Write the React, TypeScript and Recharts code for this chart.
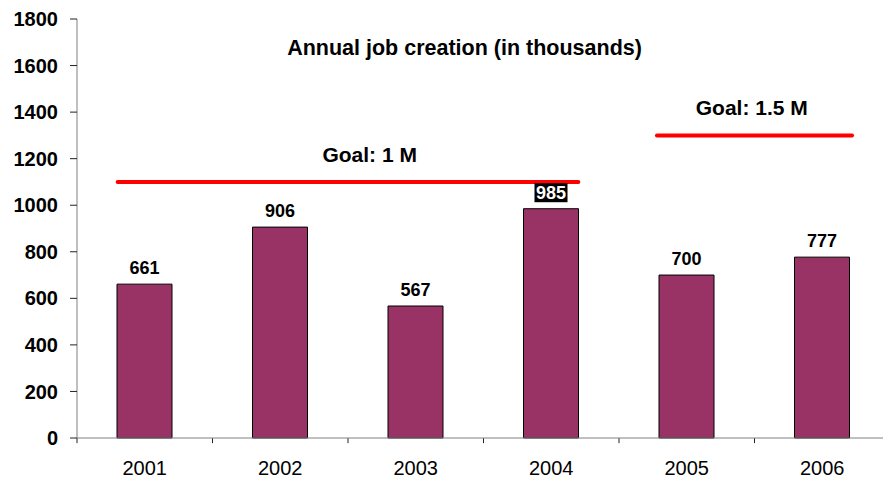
import React from 'react';
import {
  ComposedChart,
  Bar,
  XAxis,
  YAxis,
  ReferenceLine,
  ReferenceDot,
  Label,
  LabelList,
} from 'recharts';

// Annual job creation, thousands
const years = ['2001', '2002', '2003', '2004', '2005', '2006'];
const jobs = [661, 906, 567, 985, 700, 777];
const yTicks = [0, 200, 400, 600, 800, 1000, 1200, 1400, 1600, 1800];

// goals drawn as segments over the bars (x in category units on a hidden numeric axis)
const goal1 = { from: 0.3, to: 3.7, value: 1100, label: 'Goal: 1 M' };
const goal2 = { from: 4.28, to: 5.72, value: 1300, label: 'Goal: 1.5 M' };
const boundaryTicks = [0, 1, 2, 3, 4, 5, 6];
const highlightIndex = 3;

const data = years.map((year, i) => ({ year, jobs: jobs[i], slot: i + 0.5 }));

const FONT = '"Liberation Sans", Arial, sans-serif';

function ValueLabel(props: any) {
  const { x, y, width, value, index } = props;
  const cx = x + width / 2;
  const cy = y - 16;
  if (index === highlightIndex) {
    return (
      <g>
        <rect x={cx - 16.5} y={cy - 9.5} width={33} height={19} fill="#000" />
        <text x={cx} y={cy} textAnchor="middle" dominantBaseline="central"
          fill="#fff" fontSize={18} fontWeight="bold" fontFamily={FONT}>
          {value}
        </text>
      </g>
    );
  }
  return (
    <text x={cx} y={cy} textAnchor="middle" dominantBaseline="central"
      fill="#000" fontSize={18} fontWeight="bold" fontFamily={FONT}>
      {value}
    </text>
  );
}

function JobChart() {
  return (
    <div style={{ position: 'absolute', left: 0, top: 0, width: 883, height: 479, overflow: 'hidden', background: '#fff' }}>
      <ComposedChart width={890} height={479} data={data} margin={{ top: 19, right: 0, left: 0, bottom: 0 }}>
        <XAxis xAxisId="num" dataKey="slot" type="number" domain={[0, 6]} allowDataOverflow hide />
        <XAxis
          xAxisId="cat"
          dataKey="year"
          height={41}
          stroke="#808080"
          tickLine={false}
          tickSize={6}
          tickMargin={17}
          tick={{ fill: '#000', fontSize: 20, fontFamily: FONT }}
        />
        <YAxis
          width={77}
          domain={[0, 1800]}
          ticks={yTicks}
          stroke="#808080"
          tickSize={7}
          tickMargin={12}
          tickLine={{ stroke: '#222' }}
          tick={{ fill: '#000', fontSize: 20, fontWeight: 'bold', fontFamily: FONT }}
        />
        <Bar
          xAxisId="cat"
          dataKey="jobs"
          fill="#993366"
          stroke="#000"
          strokeWidth={1}
          barSize={55}
          isAnimationActive={false}
        >
          <LabelList dataKey="jobs" content={<ValueLabel />} />
        </Bar>
        {boundaryTicks.map((t) => (
          <ReferenceLine
            key={t}
            xAxisId="num"
            segment={[{ x: t, y: 0 }, { x: t, y: -22 }]}
            ifOverflow="visible"
            stroke="#222"
            strokeWidth={1}
          />
        ))}
        <ReferenceLine
          xAxisId="num"
          segment={[{ x: goal1.from, y: goal1.value }, { x: goal1.to, y: goal1.value }]}
          stroke="#ff0000"
          strokeWidth={4}
          strokeLinecap="round"
        />
        <ReferenceLine
          xAxisId="num"
          segment={[{ x: goal2.from, y: goal2.value }, { x: goal2.to, y: goal2.value }]}
          stroke="#ff0000"
          strokeWidth={4}
          strokeLinecap="round"
        />
        <ReferenceDot xAxisId="num" x={2.16} y={1216} r={0} fill="none" stroke="none">
          <Label value={goal1.label} position="center" fill="#000" fontSize={21} fontWeight="bold" fontFamily={FONT} />
        </ReferenceDot>
        <ReferenceDot xAxisId="num" x={4.98} y={1418} r={0} fill="none" stroke="none">
          <Label value={goal2.label} position="center" fill="#000" fontSize={21} fontWeight="bold" fontFamily={FONT} />
        </ReferenceDot>
        <ReferenceDot xAxisId="num" x={2.86} y={1680} r={0} fill="none" stroke="none">
          <Label value="Annual job creation (in thousands)" position="center" fill="#000" fontSize={21.5} fontWeight="bold" fontFamily={FONT} />
        </ReferenceDot>
      </ComposedChart>
    </div>
  );
}

export default function App() {
  return <JobChart />;
}
